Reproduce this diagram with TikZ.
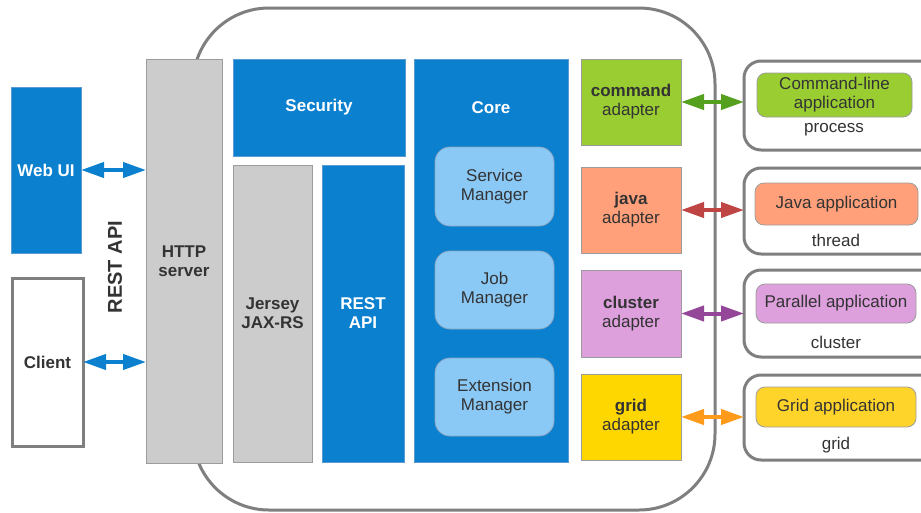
\documentclass[tikz,border=0pt]{standalone}
\usepackage{fontspec}
\setmainfont{Liberation Sans}
\usetikzlibrary{arrows.meta}

\definecolor{txt}{HTML}{333333}
\definecolor{mainblue}{HTML}{0A80CF}
\definecolor{blueedge}{HTML}{5A9AD0}
\definecolor{lightblue}{HTML}{8AC8F6}
\definecolor{lightedge}{HTML}{8AA6BE}
\definecolor{boxgray}{HTML}{CCCCCC}
\definecolor{grayedge}{HTML}{9C9C9C}
\definecolor{frame}{HTML}{7F7F7F}
\definecolor{cmdgreen}{HTML}{9ACD32}
\definecolor{cmdarrow}{HTML}{55A01E}
\definecolor{javasalmon}{HTML}{FFA07A}
\definecolor{javaarrow}{HTML}{BF4444}
\definecolor{clusterplum}{HTML}{DDA0DD}
\definecolor{clusterarrow}{HTML}{944798}
\definecolor{gridgold}{HTML}{FFD700}
\definecolor{gridapp}{HTML}{FFD42A}
\definecolor{gridarrow}{HTML}{FF9A1A}

\begin{document}
\begin{tikzpicture}[x=1pt,y=-1pt,
  box/.style={draw, line width=0.8pt, inner sep=0pt, outer sep=0pt,
    anchor=north west, align=center, text=txt,
    font=\fontsize{17}{19}\selectfont},
  bluebox/.style={box, fill=mainblue, draw=blueedge, text=white,
    font=\bfseries\fontsize{17}{19}\selectfont},
  graybox/.style={box, fill=boxgray, draw=grayedge,
    font=\bfseries\fontsize{17}{19}\selectfont},
  manager/.style={box, fill=lightblue, draw=lightedge, rounded corners=15pt,
    minimum width=119pt},
  adapter/.style={box, draw=grayedge, minimum width=100pt},
  hostbox/.style={draw=frame, line width=3pt, fill=white, rounded corners=17pt},
  appbox/.style={box, draw=grayedge, rounded corners=9pt},
  hostlabel/.style={text=txt, font=\fontsize{17}{19}\selectfont, inner sep=0pt},
  link/.style={line width=4pt, {Triangle[length=23pt,width=15pt]}-{Triangle[length=23pt,width=15pt]}},
]
\clip (0,0) rectangle (921,512);
\fill[white] (0,0) rectangle (921,512);

% platform outline
\draw[frame, line width=3pt, rounded corners=76pt] (193,8) rectangle (715,510);

% clients
\node[bluebox, minimum width=70pt, minimum height=166pt] (webui) at (11,87) {Web UI};
\node[box, fill=white, draw=frame, line width=3pt, minimum width=71pt, minimum height=168pt,
  font=\bfseries\fontsize{17}{19}\selectfont] (client) at (12,278) {Client};
\node[rotate=90, text=txt, inner sep=0pt, font=\bfseries\fontsize{20}{24}\selectfont]
  (restlabel) at (115,267) {REST API};

% web stack
\node[graybox, minimum width=76pt, minimum height=404pt] (http) at (146,59) {HTTP\\server};
\node[bluebox, minimum width=172pt, minimum height=97pt] (security) at (233,59) {Security};
\node[graybox, minimum width=79pt, minimum height=297pt] (jersey) at (233,165) {Jersey\\JAX-RS};
\node[bluebox, minimum width=82pt, minimum height=297pt] (restapi) at (322,165) {REST\\API};

% core
\node[bluebox, minimum width=154pt, minimum height=403pt] (core) at (414,59) {};
\node[text=white, inner sep=0pt, font=\bfseries\fontsize{17}{19}\selectfont]
  (coretitle) at (491,108) {Core};
\node[manager, minimum height=79pt] (service) at (435,147) {Service\\Manager};
\node[manager, minimum height=78pt] (job) at (435,251) {Job\\Manager};
\node[manager, minimum height=78pt] (extension) at (435,358) {Extension\\Manager};

% adapters
\node[adapter, fill=cmdgreen, minimum height=86pt] (cmd) at (581,59) {\textbf{command}\\adapter};
\node[adapter, fill=javasalmon, minimum height=86pt] (java) at (581,167) {\textbf{java}\\adapter};
\node[adapter, fill=clusterplum, minimum height=87pt] (cluster) at (581,270) {\textbf{cluster}\\adapter};
\node[adapter, fill=gridgold, minimum height=86pt] (grid) at (581,374) {\textbf{grid}\\adapter};

% execution hosts
\path[hostbox] (744,61) rectangle (940,150);
\path[hostbox] (744,168) rectangle (940,254);
\path[hostbox] (744,270) rectangle (940,357);
\path[hostbox] (744,375) rectangle (940,460);
\coordinate (host1) at (744,103);
\coordinate (host2) at (744,210);
\coordinate (host3) at (744,313);
\coordinate (host4) at (744,417);

\node[appbox, fill=cmdgreen, minimum width=155pt, minimum height=44pt] (cmdapp) at (757,73) {Command-line\\application};
\node[hostlabel] (process) at (834,130) {process};
\node[appbox, fill=javasalmon, minimum width=163pt, minimum height=42pt] (javaapp) at (755,183) {Java application};
\node[hostlabel] (thread) at (836,240) {thread};
\node[appbox, fill=clusterplum, minimum width=160pt, minimum height=39pt] (parapp) at (756,284) {Parallel application};
\node[hostlabel] (clusterlbl) at (836,342) {cluster};
\node[appbox, fill=gridapp, minimum width=160pt, minimum height=40pt] (gridapp) at (756,387) {Grid application};
\node[hostlabel] (gridlbl) at (836,445) {grid};

% connectors
\draw[link, mainblue] (webui.east) -- (webui.east -| http.west);
\draw[link, mainblue] (client.east) -- (client.east -| http.west);
\draw[link, cmdarrow] (cmd.east) -- (cmd.east -| host1);
\draw[link, javaarrow] (java.east) -- (java.east -| host2);
\draw[link, clusterarrow] (cluster.east) -- (cluster.east -| host3);
\draw[link, gridarrow] (grid.east) -- (grid.east -| host4);
\end{tikzpicture}
\end{document}
